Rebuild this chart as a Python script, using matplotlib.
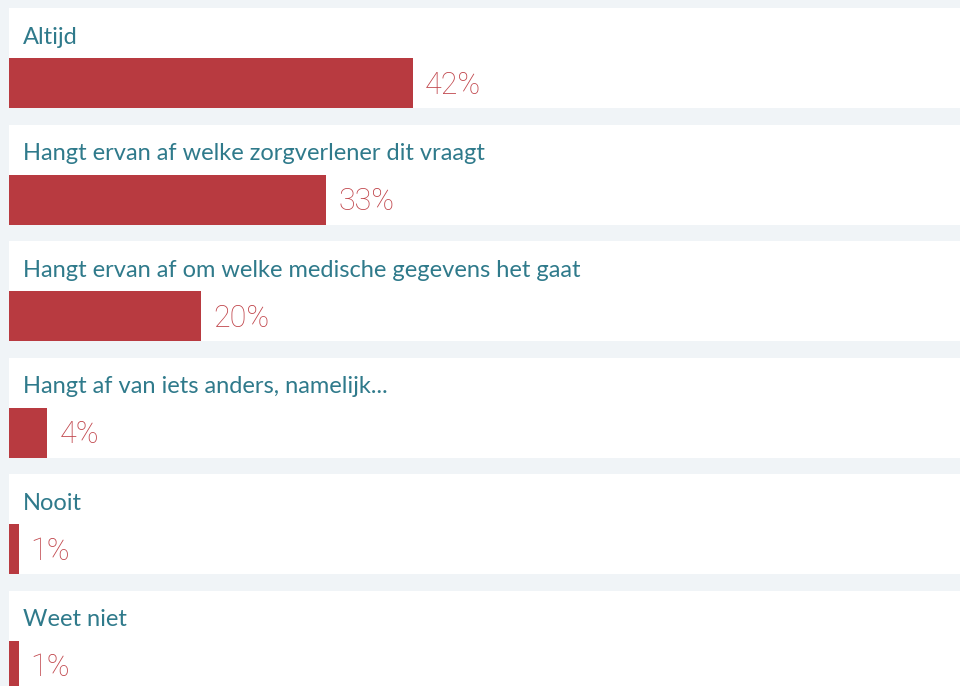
import matplotlib
matplotlib.use("Agg")
import matplotlib.pyplot as plt
from matplotlib.patches import Rectangle

categories = [
    "Altijd",
    "Hangt ervan af welke zorgverlener dit vraagt",
    "Hangt ervan af om welke medische gegevens het gaat",
    "Hangt af van iets anders, namelijk...",
    "Nooit",
    "Weet niet",
]
values = [42, 33, 20, 4, 1, 1]
labels = ["42%", "33%", "20%", "4%", "1%", "1%"]

BG = "#f0f4f7"
BAR = "#b83a40"
TXT = "#2f7a8b"
PCT = "#c0444a"

W, H = 960, 686
fig = plt.figure(figsize=(W / 100, H / 100), dpi=100)
fig.patch.set_facecolor(BG)

px_per_unit = 9.62
left_px = 9
ax = fig.add_axes([left_px / W, 0, (W - left_px) / W, 1])
ax.set_facecolor(BG)
ax.set_xlim(0, (W - left_px) / px_per_unit)

pitch = 116.6
top0 = 8
ax.set_ylim((H - top0) / pitch, -top0 / pitch)
for s in ax.spines.values():
    s.set_visible(False)
ax.set_xticks([])
ax.set_yticks([])

panel_h = 100 / pitch
bar_h = 50 / pitch
xmax = ax.get_xlim()[1]

for i, (cat, v, lab) in enumerate(zip(categories, values, labels)):
    ax.add_patch(Rectangle((0, i), xmax, panel_h, facecolor="white",
                           edgecolor="none", zorder=1))
    yc = i + panel_h - bar_h / 2
    ax.barh(yc, v, height=bar_h, left=0, color=BAR, zorder=2)
    ax.text((23 - left_px) / px_per_unit, i + 29 / pitch, cat,
            fontsize=17, color=TXT, family=["Lato", "DejaVu Sans"],
            va="center", ha="left", zorder=3)
    ax.annotate(lab, xy=(v, yc), xytext=(12, -2), textcoords="offset pixels",
                fontsize=22, color=PCT, family=["Roboto", "DejaVu Sans"],
                fontweight="light", va="center", ha="left", zorder=3)

fig.savefig("out.png", dpi=100, facecolor=BG)
